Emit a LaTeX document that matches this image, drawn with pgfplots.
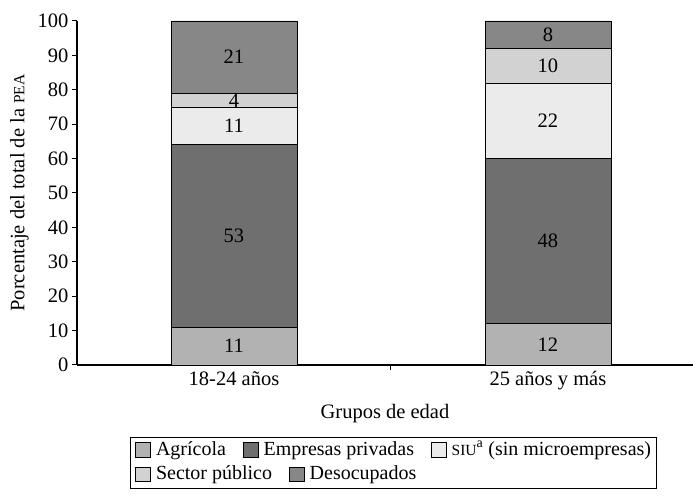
\documentclass[border=0pt]{standalone}
\usepackage{fontspec}
\setmainfont{Liberation Serif}
\usepackage{pgfplots}
\pgfplotsset{compat=1.18}
\newcommand\smc[1]{{\fontsize{15.5}{16}\selectfont #1}}
\definecolor{cAgr}{HTML}{B2B2B2}
\definecolor{cEmp}{HTML}{6F6F6F}
\definecolor{cSIU}{HTML}{EBEBEB}
\definecolor{cPub}{HTML}{D2D2D2}
\definecolor{cDes}{HTML}{878787}
\newcommand\legsq[1]{\raisebox{-1.5pt}{\setlength\fboxsep{0pt}\setlength\fboxrule{0.8pt}\fcolorbox{black}{#1}{\rule{0pt}{14pt}\hspace{14pt}}}\hspace{5pt}}
\pgfplotsset{
  common/.style={scale only axis, width=616pt, height=344pt,
    xmin=-0.5, xmax=1.462, ymin=0, ymax=100,
    /pgf/number format/assume math mode=true}
}
\begin{document}
\begin{tikzpicture}[font=\fontsize{20.5}{24}\selectfont]
\path[use as bounding box] (-77pt,-132pt) rectangle (616pt,365pt);
\begin{axis}[common,
  axis x line*=bottom, axis y line*=left,
  axis line style={line width=1.1pt, -},
  ybar stacked, bar width=0.401,
  xtick={0.5}, xticklabels={},
  extra x ticks={0,1},
  extra x tick labels={18-24 años, 25 años y más},
  extra x tick style={major tick length=0pt},
  ytick={0,10,...,100},
  tick align=outside, major tick length=5pt,
  tick style={line width=1pt, black},
  xticklabel style={yshift=-3pt},
  xlabel style={yshift=-2pt},
  ylabel style={yshift=2pt},
  xlabel={Grupos de edad},
  ylabel={Porcentaje del total de la \smc{PEA}},
  every axis plot/.append style={draw=black, line width=0.8pt},
]
\addplot[fill=cAgr] coordinates {(0,11) (1,12)};
\addplot[fill=cEmp] coordinates {(0,53) (1,48)};
\addplot[fill=cSIU] coordinates {(0,11) (1,22)};
\addplot[fill=cPub] coordinates {(0,4) (1,10)};
\addplot[fill=cDes] coordinates {(0,21) (1,8)};
\end{axis}
\begin{axis}[common, hide axis]
\addplot[draw=none, nodes near coords, point meta=explicit symbolic,
  every node near coord/.append style={anchor=center, font=\fontsize{20.5}{24}\selectfont, text=black}]
  coordinates {(0,5.5)[11] (0,37.5)[53] (0,69.5)[11] (0,76.8)[4] (0,89.5)[21]
               (1,6)[12] (1,36)[48] (1,71)[22] (1,87)[10] (1,96)[8]};
\end{axis}
\node[draw=black, line width=0.8pt, anchor=north west, align=left, inner xsep=5pt, inner ysep=4pt,
  font=\fontsize{20}{24.5}\selectfont] at (53pt,-72pt)
  {\legsq{cAgr}Agrícola\hspace{17pt}\legsq{cEmp}Empresas privadas\hspace{17pt}\legsq{cSIU}\smc{SIU}\textsuperscript{a} (sin microempresas)\\
   \legsq{cPub}Sector público\hspace{17pt}\legsq{cDes}Desocupados};
\end{tikzpicture}
\end{document}
